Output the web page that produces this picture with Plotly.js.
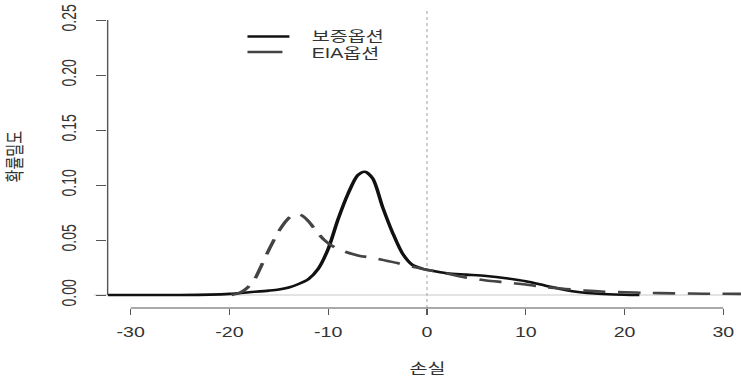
<!DOCTYPE html>
<html>
<head>
<meta charset="utf-8">
<script src="https://cdn.plot.ly/plotly-3.0.1.min.js"></script>
<style>
  html, body { margin:0; padding:0; background:#fff; }
  #wrap { width:741px; height:377px; overflow:hidden; }
  #plot { width:530px; height:377px; transform:scaleX(1.398); transform-origin:0 0; }
</style>
</head>
<body>
<div id="wrap"><div id="plot"></div></div>
<script>
// ---- data ----
const seriesNames = ['보증옵션', 'EIA옵션'];

const xGuarantee = [-32.3, -28, -25, -22, -20, -18, -16, -15, -14, -13, -12, -11, -10, -9, -8, -7, -6.3, -5.5, -4.5, -3.5, -2.5, -1.5, -0.5, 0.5, 2, 4, 6, 8, 10, 12, 14, 15.5, 17, 19, 21.5];
const yGuarantee = [0, 0, 0, 0.0003, 0.001, 0.0025, 0.004, 0.005, 0.0068, 0.0100, 0.0145, 0.024, 0.042, 0.069, 0.092, 0.109, 0.112, 0.106, 0.080, 0.057, 0.038, 0.0275, 0.024, 0.022, 0.0198, 0.0185, 0.0172, 0.0152, 0.0125, 0.0085, 0.0045, 0.0025, 0.0013, 0.0005, 0];

const xEIA = [-19.8, -19, -18.4, -17.5, -16.7, -15.9, -15, -14.2, -13.4, -12.7, -12, -11.2, -10.4, -9.5, -8.5, -7, -5, -3, -1.5, 0, 2, 4, 6, 8, 10, 12, 14, 16, 18, 20, 22, 25, 28, 32];
const yEIA = [0, 0.002, 0.005, 0.0136, 0.028, 0.043, 0.058, 0.068, 0.0738, 0.0725, 0.067, 0.058, 0.050, 0.044, 0.040, 0.036, 0.033, 0.029, 0.026, 0.023, 0.0195, 0.0158, 0.0132, 0.0115, 0.0095, 0.0072, 0.0055, 0.004, 0.003, 0.0025, 0.002, 0.0015, 0.0012, 0.001];

const xTicks = [-30, -20, -10, 0, 10, 20, 30];
const xTickLabels = ['-30', '-20', '-10', '0', '10', '20', '30'];
const yTicks = [0, 0.05, 0.10, 0.15, 0.20, 0.25];
const yTickLabels = ['0.00', '0.05', '0.10', '0.15', '0.20', '0.25'];
const xTitle = '손실';
const yTitle = '확률밀도';

// ---- styles ----
const axisColor = '#555';
const textColor = '#333';
const solidColor = '#111';
const dashColor = '#444';
const latin = '"Liberation Sans", Arial, "Noto Sans CJK KR", sans-serif';
const korean = '"Liberation Sans", "Noto Sans CJK KR", sans-serif';

const traces = [
  { x: xGuarantee, y: yGuarantee, name: seriesNames[0], type: 'scatter', mode: 'lines',
    line: { color: solidColor, width: 2.6, shape: 'spline', smoothing: 0.8 }, hoverinfo: 'skip' },
  { x: xEIA, y: yEIA, name: seriesNames[1], type: 'scatter', mode: 'lines',
    line: { color: dashColor, width: 2.6, shape: 'spline', smoothing: 0.8, dash: '16px,9px' }, hoverinfo: 'skip' }
];

const layout = {
  width: 530, height: 377,
  margin: { l: 76.5, r: 0, t: 5, b: 69 },
  paper_bgcolor: '#fff', plot_bgcolor: '#fff',
  showlegend: false,
  xaxis: {
    range: [-32.33, 31.78], showgrid: false, zeroline: false, showline: false,
    tickmode: 'array', tickvals: xTicks, ticktext: xTickLabels,
    ticks: 'outside', ticklen: 6, tickwidth: 1, tickcolor: axisColor, ticklabelstandoff: 5,
    tickfont: { family: latin, size: 14, color: textColor }
  },
  yaxis: {
    range: [-0.011818, 0.263636], showgrid: false, zeroline: false, showline: false,
    tickmode: 'array', tickvals: yTicks, ticktext: yTickLabels, tickangle: -90,
    ticks: 'outside', ticklen: 7, tickwidth: 1, tickcolor: axisColor, ticklabelstandoff: 9,
    tickfont: { family: latin, size: 14, color: textColor }
  },
  shapes: [
    { type: 'line', xref: 'x', yref: 'paper', x0: -30, x1: 30, y0: 0, y1: 0, line: { color: axisColor, width: 1 } },
    { type: 'line', xref: 'paper', yref: 'y', x0: 0, x1: 0, y0: 0, y1: 0.25, line: { color: axisColor, width: 1 } },
    { type: 'line', xref: 'paper', yref: 'y', x0: -0.022, x1: 1, y0: 0, y1: 0, line: { color: '#c8c8c8', width: 1 }, layer: 'below' },
    { type: 'line', xref: 'x', yref: 'paper', x0: 0, x1: 0, y0: 0, y1: 0.99, line: { color: '#bbb', width: 1, dash: 'dot' }, layer: 'below' },
    // legend keys
    { type: 'line', xref: 'paper', yref: 'paper', x0: 0.2208, x1: 0.2870, y0: 0.896, y1: 0.896, line: { color: solidColor, width: 2.6 } },
    { type: 'line', xref: 'paper', yref: 'paper', x0: 0.2208, x1: 0.2760, y0: 0.845, y1: 0.845, line: { color: dashColor, width: 2.6 } }
  ],
  annotations: [
    { text: seriesNames[0], xref: 'paper', yref: 'paper', x: 0.317, y: 0.8977, xanchor: 'left', yanchor: 'middle',
      showarrow: false, font: { family: korean, size: 14, color: textColor } },
    { text: seriesNames[1], xref: 'paper', yref: 'paper', x: 0.317, y: 0.8416, xanchor: 'left', yanchor: 'middle',
      showarrow: false, font: { family: korean, size: 14, color: textColor } },
    { text: xTitle, xref: 'paper', yref: 'paper', x: 0.505, y: -0.198, xanchor: 'center', yanchor: 'middle',
      showarrow: false, font: { family: korean, size: 14, color: textColor } },
    { text: yTitle, xref: 'paper', yref: 'paper', x: -0.148, y: 0.50, xanchor: 'center', yanchor: 'middle', textangle: -90,
      showarrow: false, font: { family: korean, size: 14, color: textColor } }
  ]
};

Plotly.newPlot('plot', traces, layout, { staticPlot: true, displayModeBar: false, responsive: false });
</script>
</body>
</html>
